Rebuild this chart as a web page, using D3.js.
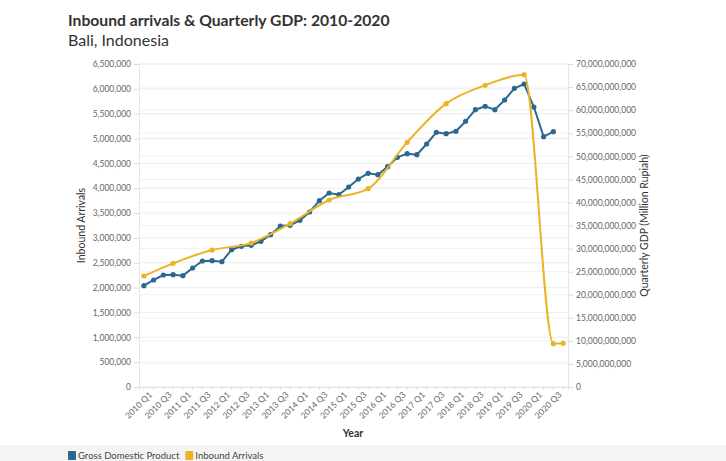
<!DOCTYPE html>
<html>
<head>
<meta charset="utf-8">
<script src="https://cdn.jsdelivr.net/npm/d3@7"></script>
<style>
  body { margin: 0; background: #fff; }
  svg { display: block; font-family: Lato, "Open Sans", sans-serif; }
</style>
</head>
<body>
<div id="chart"></div>
<script>
const width = 726;
const height = 461;

const quarters = [
  "2010 Q1", "2010 Q2", "2010 Q3", "2010 Q4", "2011 Q1", "2011 Q2", "2011 Q3", "2011 Q4",
  "2012 Q1", "2012 Q2", "2012 Q3", "2012 Q4", "2013 Q1", "2013 Q2", "2013 Q3", "2013 Q4",
  "2014 Q1", "2014 Q2", "2014 Q3", "2014 Q4", "2015 Q1", "2015 Q2", "2015 Q3", "2015 Q4",
  "2016 Q1", "2016 Q2", "2016 Q3", "2016 Q4", "2017 Q1", "2017 Q2", "2017 Q3", "2017 Q4",
  "2018 Q1", "2018 Q2", "2018 Q3", "2018 Q4", "2019 Q1", "2019 Q2", "2019 Q3", "2019 Q4",
  "2020 Q1", "2020 Q2", "2020 Q3", "2020 Q4"
];

// quarterly GDP (million rupiah), 2010 Q1 .. 2020 Q3
const gdpValues = [
  21.96e9, 23.19e9, 24.27e9, 24.34e9, 24.13e9, 25.79e9, 27.31e9, 27.38e9,
  27.16e9, 29.76e9, 30.48e9, 30.70e9, 31.57e9, 33.01e9, 34.89e9, 35.04e9,
  36.12e9, 37.93e9, 40.38e9, 42.04e9, 41.68e9, 43.34e9, 45.08e9, 46.31e9,
  46.02e9, 47.75e9, 49.77e9, 50.57e9, 50.35e9, 52.66e9, 55.19e9, 54.90e9,
  55.41e9, 57.57e9, 60.10e9, 60.82e9, 60.10e9, 62.20e9, 64.73e9, 65.67e9,
  60.68e9, 54.25e9, 55.34e9
];

// inbound arrivals
const arrivalQuarters = [
  "2010 Q1", "2010 Q4", "2011 Q4", "2012 Q4", "2013 Q4", "2014 Q4",
  "2015 Q4", "2016 Q4", "2017 Q4", "2018 Q4", "2019 Q4", "2020 Q3", "2020 Q4"
];
const arrivalValues = [
  2234000, 2489000, 2757000, 2898000, 3287000, 3763000,
  3991000, 4924000, 5702000, 6071000, 6285000, 872000, 879000
];

const leftTicks = d3.range(0, 6500001, 500000);
const rightTicks = d3.range(0, 70e9 + 1, 5e9);
const xLabels = quarters.filter((q, i) => i % 2 === 0);

const blue = "#2b6891";
const yellow = "#e9b526";

const svg = d3.select("#chart").append("svg")
  .attr("width", width)
  .attr("height", height);

const plotLeft = 139, plotRight = 568, plotTop = 64, plotBottom = 387;

const x = d3.scaleBand().domain(quarters).range([plotLeft, plotRight]);
const cx = (q) => x(q) + x.bandwidth() / 2;
const yL = d3.scaleLinear().domain([0, 6500000]).range([plotBottom, plotTop]);
const yR = d3.scaleLinear().domain([0, 70e9]).range([plotBottom, plotTop]);

// bottom legend band
svg.append("rect")
  .attr("x", 0).attr("y", 445).attr("width", width).attr("height", 16)
  .attr("fill", "#f4f4f4");

// gridlines
svg.append("g").selectAll("line").data(leftTicks).join("line")
  .attr("x1", plotLeft).attr("x2", plotRight)
  .attr("y1", d => yL(d)).attr("y2", d => yL(d))
  .attr("stroke", "#ececec");
svg.append("g").selectAll("line").data(rightTicks).join("line")
  .attr("x1", plotLeft).attr("x2", plotRight)
  .attr("y1", d => yR(d)).attr("y2", d => yR(d))
  .attr("stroke", "#f1f1f1");

// left axis
const leftAxis = svg.append("g")
  .attr("transform", `translate(${plotLeft},0)`)
  .call(d3.axisLeft(yL).tickValues(leftTicks).tickFormat(d3.format(",")).tickSize(5).tickPadding(3));

// right axis
const rightAxis = svg.append("g")
  .attr("transform", `translate(${plotRight},0)`)
  .call(d3.axisRight(yR).tickValues(rightTicks).tickFormat(d3.format(",")).tickSize(5).tickPadding(3));

// x axis
const xAxis = svg.append("g")
  .attr("transform", `translate(0,${plotBottom})`)
  .call(d3.axisBottom(x).tickValues(quarters).tickSize(3).tickFormat(q => xLabels.includes(q) ? q : ""));

[leftAxis, rightAxis, xAxis].forEach(g => {
  g.select(".domain").attr("stroke", "#e6e6e6");
  g.selectAll(".tick line").attr("stroke", "#dcdcdc");
  g.selectAll("text").attr("fill", "#666").style("font-size", "8.5px").style("font-family", "Lato, sans-serif");
});

xAxis.selectAll("text")
  .attr("text-anchor", "end")
  .attr("dx", "0.2em")
  .attr("dy", "0.55em")
  .attr("transform", "translate(0,2) rotate(-45)");

// axis titles
svg.append("text")
  .attr("transform", `translate(85,${(plotTop + plotBottom) / 2}) rotate(-90)`)
  .attr("text-anchor", "middle")
  .attr("fill", "#333")
  .style("font-size", "10.5px")
  .text("Inbound Arrivals");

svg.append("text")
  .attr("transform", `translate(648,${(plotTop + plotBottom) / 2}) rotate(-90)`)
  .attr("text-anchor", "middle")
  .attr("fill", "#333")
  .style("font-size", "10.5px")
  .text("Quarterly GDP (Million Rupiah)");

svg.append("text")
  .attr("x", 353).attr("y", 437)
  .attr("text-anchor", "middle")
  .attr("fill", "#333")
  .style("font-size", "10.5px")
  .style("font-weight", "bold")
  .text("Year");

// GDP line (right axis)
const gdpData = gdpValues.map((v, i) => ({ q: quarters[i], v }));
svg.append("path")
  .datum(gdpData)
  .attr("fill", "none")
  .attr("stroke", blue)
  .attr("stroke-width", 2)
  .attr("d", d3.line().x(d => cx(d.q)).y(d => yR(d.v)));
svg.append("g").selectAll("circle").data(gdpData).join("circle")
  .attr("cx", d => cx(d.q)).attr("cy", d => yR(d.v))
  .attr("r", 2.6).attr("fill", blue);

// arrivals line (left axis)
const arrData = arrivalValues.map((v, i) => ({ q: arrivalQuarters[i], v }));
svg.append("path")
  .datum(arrData)
  .attr("fill", "none")
  .attr("stroke", yellow)
  .attr("stroke-width", 2)
  .attr("d", d3.line().curve(d3.curveMonotoneX).x(d => cx(d.q)).y(d => yL(d.v)));
svg.append("g").selectAll("circle").data(arrData).join("circle")
  .attr("cx", d => cx(d.q)).attr("cy", d => yL(d.v))
  .attr("r", 2.6).attr("fill", yellow);

// title
svg.append("text")
  .attr("x", 68).attr("y", 26)
  .attr("fill", "#333")
  .style("font-size", "15.7px")
  .style("font-weight", "bold")
  .text("Inbound arrivals & Quarterly GDP: 2010-2020");
svg.append("text")
  .attr("x", 68).attr("y", 46)
  .attr("fill", "#333")
  .style("font-size", "16px")
  .text("Bali, Indonesia");

// legend
const legendKeys = ["Gross Domestic Product", "Inbound Arrivals"];
const legendColors = [blue, yellow];
const legend = svg.append("g");
let lx = 68;
legendKeys.forEach((key, i) => {
  legend.append("rect")
    .attr("x", lx).attr("y", 451)
    .attr("width", 8).attr("height", 9).attr("rx", 1)
    .attr("fill", legendColors[i]);
  const t = legend.append("text")
    .attr("x", lx + 10).attr("y", 459)
    .attr("fill", "#444")
    .style("font-size", "9.5px")
    .text(key);
  lx += 10 + t.node().getComputedTextLength() + 6;
});
</script>
</body>
</html>
